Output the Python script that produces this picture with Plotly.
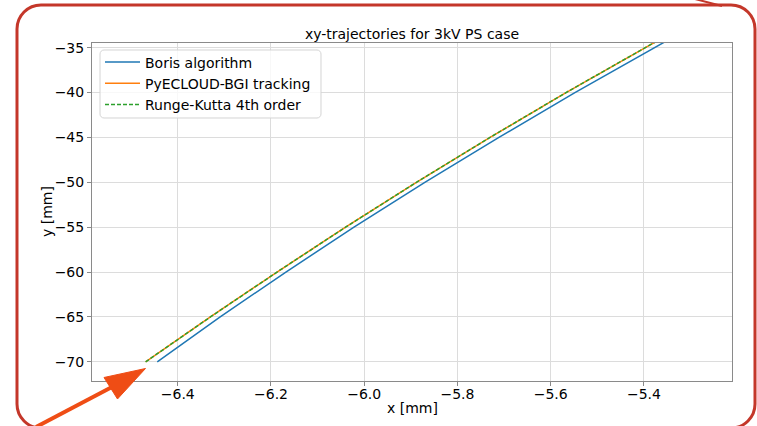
import plotly.graph_objects as go

# Trajectory samples in the transverse plane [mm]
y_mm = [-70, -65, -60, -55, -50, -45, -40, -35, -34]
x_boris = [-6.444, -6.309, -6.168, -6.022, -5.870, -5.711, -5.548, -5.378, -5.343]
x_pyecloud = [-6.469, -6.330, -6.187, -6.040, -5.888, -5.730, -5.567, -5.398, -5.363]
x_rk4 = [-6.469, -6.330, -6.187, -6.040, -5.888, -5.730, -5.567, -5.398, -5.363]

series_names = ["Boris algorithm", "PyECLOUD-BGI tracking", "Runge-Kutta 4th order"]

x_ticks = [-6.4, -6.2, -6.0, -5.8, -5.6, -5.4]
x_tick_text = ["\u22126.4", "\u22126.2", "\u22126.0", "\u22125.8", "\u22125.6", "\u22125.4"]
y_ticks = [-70, -65, -60, -55, -50, -45, -40, -35]
y_tick_text = ["\u221270", "\u221265", "\u221260", "\u221255", "\u221250", "\u221245", "\u221240", "\u221235"]

W, H = 757, 426
L, R, T, B = 92, 732, 43, 381
FONT = "DejaVu Sans"


def fx(px):
    return (px - L) / (R - L)


def fy(py):
    return (B - py) / (B - T)


def rounded_rect(x0, y0, x1, y1, r):
    k = 0.5523 * r
    pts = [
        ("M", [(x0 + r, y0)]),
        ("L", [(x1 - r, y0)]),
        ("C", [(x1 - r + k, y0), (x1, y0 + r - k), (x1, y0 + r)]),
        ("L", [(x1, y1 - r)]),
        ("C", [(x1, y1 - r + k), (x1 - r + k, y1), (x1 - r, y1)]),
        ("L", [(x0 + r, y1)]),
        ("C", [(x0 + r - k, y1), (x0, y1 - r + k), (x0, y1 - r)]),
        ("L", [(x0, y0 + r)]),
        ("C", [(x0, y0 + r - k), (x0 + r - k, y0), (x0 + r, y0)]),
    ]
    out = []
    for cmd, ps in pts:
        out.append(cmd + " ".join(f"{fx(a):.5f},{fy(b):.5f}" for a, b in ps))
    return " ".join(out) + " Z"


fig = go.Figure()
fig.add_trace(go.Scatter(x=x_boris, y=y_mm, mode="lines", name=series_names[0],
                         line=dict(color="#1f77b4", width=1.5)))
fig.add_trace(go.Scatter(x=x_pyecloud, y=y_mm, mode="lines", name=series_names[1],
                         line=dict(color="#ff7f0e", width=1.5)))
fig.add_trace(go.Scatter(x=x_rk4, y=y_mm, mode="lines", name=series_names[2],
                         line=dict(color="#2ca02c", width=1.5, dash="4px,2px")))

axis_common = dict(
    showgrid=True, gridcolor="#dcdcdc", gridwidth=1,
    showline=True, linecolor="#8a8a8a", linewidth=1, mirror=True,
    ticks="outside", ticklen=4, tickcolor="#8a8a8a",
    tickfont=dict(family=FONT, size=14, color="#000000"),
    zeroline=False, automargin=False,
)

shapes = [
    # legend frame
    dict(type="path", xref="paper", yref="paper", layer="above",
         path=rounded_rect(100, 50, 321, 118, 4),
         line=dict(color="#d4d4d4", width=1), fillcolor="rgba(255,255,255,0.8)"),
    # red callout frame
    dict(type="path", xref="paper", yref="paper", layer="above",
         path=rounded_rect(17, 5, 755, 428, 24),
         line=dict(color="#c4372a", width=3), fillcolor="rgba(0,0,0,0)"),
    dict(type="line", xref="paper", yref="paper", layer="above",
         x0=fx(695), y0=fy(-1), x1=fx(722), y1=fy(6),
         line=dict(color="#c4372a", width=2)),
    # orange pointer arrow
    dict(type="line", xref="paper", yref="paper", layer="above",
         x0=fx(36), y0=fy(427), x1=fx(112), y1=fy(387),
         line=dict(color="#ef4d15", width=4)),
    dict(type="path", xref="paper", yref="paper", layer="above",
         path=(f"M{fx(145.5):.5f},{fy(368.5):.5f} L{fx(104):.5f},{fy(377.5):.5f} "
               f"L{fx(117.5):.5f},{fy(399):.5f} Z"),
         line=dict(color="#ef4d15", width=1), fillcolor="#ef4d15"),
]

annotations = [
    dict(text="x [mm]", xref="paper", yref="paper", x=fx(412), y=fy(408),
         xanchor="center", yanchor="middle", showarrow=False,
         font=dict(family=FONT, size=14, color="#000000")),
    dict(text="y [mm]", xref="paper", yref="paper", x=fx(47), y=fy(212),
         xanchor="center", yanchor="middle", showarrow=False, textangle=-90,
         font=dict(family=FONT, size=14, color="#000000")),
]

fig.update_layout(
    width=W, height=H, autosize=False,
    margin=dict(l=L, r=W - R, t=T, b=H - B, pad=0, autoexpand=False),
    paper_bgcolor="white", plot_bgcolor="white",
    font=dict(family=FONT, size=14, color="#000000"),
    title=dict(text="xy-trajectories for 3kV PS case", x=fx(412), xref="paper",
               xanchor="center", y=1 - 34 / H, yanchor="middle",
               font=dict(family=FONT, size=14, color="#000000")),
    xaxis=dict(range=[-6.584, -5.211], tickvals=x_ticks, ticktext=x_tick_text,
               ticklabelstandoff=-4, **axis_common),
    yaxis=dict(range=[-72.14, -34.48], tickvals=y_ticks, ticktext=y_tick_text,
               **axis_common),
    legend=dict(x=fx(100), y=fy(46.5), xanchor="left", yanchor="top",
                bgcolor="rgba(0,0,0,0)", borderwidth=0, itemwidth=35,
                font=dict(family=FONT, size=14, color="#000000")),
    annotations=annotations,
    shapes=shapes,
    showlegend=True,
)

fig.write_html("out.html")
